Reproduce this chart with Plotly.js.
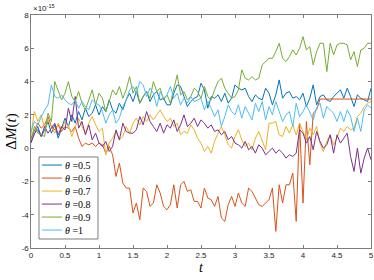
<!DOCTYPE html>
<html>
<head>
<meta charset="utf-8">
<script src="https://cdn.plot.ly/plotly-3.0.1.min.js"></script>
<style>html,body{margin:0;padding:0;background:#fff;}#chart{width:374px;height:280px;}</style>
</head>
<body>
<div id="chart"></div>
<script>
// time grid step 0.05 from 0 to 5
const tStep = 0.05;
const nPoints = 101;

// values in units of 1e-15
const theta05 = [0.4,0.9,1.3,0.7,1.1,1.6,0.9,1.4,0.6,1.2,1.8,
 1.3,2.0,1.5,2.2,1.7,2.4,1.9,2.1,2.6,2.0,
 2.5,2.2,2.9,2.3,2.1,2.7,2.3,2.9,3.3,2.8,
 3.4,2.7,3.1,3.4,2.8,3.2,3.4,2.9,3.0,2.6,
 2.6,3.3,3.8,3.7,3.1,2.5,2.8,3.0,3.1,3.9,
 3.5,2.4,3.1,3.0,3.2,2.8,3.3,2.7,3.0,3.8,
 3.6,3.5,3.6,3.1,2.8,3.2,3.0,2.9,3.6,3.3,
 2.6,3.2,4.1,3.0,3.3,3.4,3.0,3.1,2.9,3.3,
 2.5,3.0,3.8,2.6,3.1,3.2,2.9,2.8,3.1,3.3,
 3.5,3.0,3.6,3.1,2.5,3.2,3.0,2.9,2.8,3.6];
const theta06 = [0.6,1.1,1.5,1.2,1.4,1.9,1.3,1.1,1.4,1.0,1.3,
 1.2,1.0,1.3,0.6,0.1,0.3,0.2,0.3,0.1,0.3,
 0.2,-0.3,0.1,-0.4,-1.7,-0.9,-2.1,-2.4,-2.4,-3.9,
 -3.3,-4.3,-2.4,-2.6,-3.5,-3.3,-2.2,-2.7,-3.5,-3.7,
 -3.4,-2.2,-3.6,-2.2,-2.0,-2.6,-2.5,-3.2,-3.2,-3.6,
 -2.4,-3.0,-3.1,-3.5,-2.9,-4.2,-4.4,-3.4,-2.9,-3.5,
 -2.7,-3.3,-3.5,-2.4,-2.6,-3.0,-3.4,-3.5,-3.3,-3.1,
 -2.4,-5.0,-2.2,-3.3,-2.2,-2.2,-1.5,-4.4,1.5,-3.3,
 1.6,-1.0,2.1,2.3,2.95,2.95,2.95,2.95,2.95,2.95,
 2.95,2.95,2.95,2.95,2.95,2.95,2.95,2.95,2.95,2.95];
const theta07 = [0.8,2.2,1.6,2.0,1.2,1.7,1.3,0.9,1.5,1.1,1.6,
 1.4,0.7,1.2,1.8,1.3,0.9,1.5,1.9,1.4,1.0,
 1.2,-0.4,0.3,0.6,1.0,0.5,0.7,1.3,0.9,1.5,
 1.8,1.4,1.9,1.6,2.0,1.7,2.0,2.3,1.9,1.6,
 1.8,1.3,1.5,0.8,1.0,0.9,1.4,1.1,0.6,0.3,
 -0.2,0.1,-0.3,0.4,0.9,1.3,0.8,0.2,0.0,0.7,
 1.1,0.5,0.1,0.3,-0.1,0.6,1.0,0.4,-0.1,1.5,
 1.5,1.6,0.8,0.7,1.3,0.9,1.4,0.8,1.5,1.0,
 0.5,1.2,0.8,1.3,0.3,-0.2,0.4,0.8,0.2,0.6,
 1.2,1.0,1.3,1.1,1.2,1.9,2.1,2.5,2.7,2.8];
const theta08 = [0.3,0.9,1.1,0.7,1.3,0.9,1.2,1.5,0.8,1.3,1.1,
 2.4,1.6,3.1,1.2,1.6,0.8,1.4,0.5,0.9,0.3,
 0.1,0.4,-0.2,0.1,1.1,0.5,1.5,1.0,0.9,0.9,
 1.1,1.9,1.4,2.2,1.6,1.3,1.0,1.5,0.9,1.4,
 1.2,1.7,1.0,1.4,2.0,1.3,1.5,1.8,1.3,1.7,
 1.5,1.2,1.4,1.0,1.1,0.8,1.0,0.5,0.7,0.3,
 0.2,0.0,0.4,-0.1,0.1,-0.3,0.2,0.0,-0.4,-0.2,
 0.0,-0.3,-0.1,-0.3,-0.6,-0.4,-0.5,-0.3,1.1,0.9,
 0.3,0.7,-0.1,1.0,0.4,0.0,0.2,0.8,-0.3,0.8,
 0.3,0.6,0.9,-0.5,-1.4,0.0,-1.5,-0.6,0.0,-0.7];
const theta09 = [0.5,1.3,0.9,0.8,0.7,2.1,1.6,4.0,3.4,2.9,3.3,
 4.0,3.1,2.8,3.4,2.7,2.3,2.9,3.5,2.6,3.3,
 3.0,2.2,2.8,3.5,3.2,3.7,3.0,3.5,4.3,3.3,
 3.7,2.7,3.1,3.4,3.0,4.0,3.4,3.6,2.9,3.2,
 2.7,3.6,4.4,3.2,3.4,2.9,3.1,3.6,3.4,3.0,
 3.7,3.1,2.9,3.5,4.0,4.2,3.6,3.3,3.0,3.1,
 3.5,4.7,4.2,4.1,4.3,4.1,4.2,5.0,5.2,5.4,
 5.4,5.8,6.3,5.4,5.2,5.5,5.9,5.6,6.0,6.7,
 5.9,6.1,5.0,5.8,6.3,6.3,4.6,6.3,5.6,6.2,
 6.3,6.3,6.2,5.3,5.8,4.9,5.9,6.0,6.3,6.3];
const theta10 = [1.0,1.6,1.4,1.9,2.3,2.6,3.8,3.1,3.0,3.2,2.9,
 2.7,2.6,2.9,2.4,2.8,2.5,2.3,2.9,2.7,2.6,
 2.2,1.5,2.0,2.3,1.5,1.8,2.5,2.9,3.5,3.7,
 3.3,4.0,3.8,3.1,3.6,3.3,2.5,3.4,3.0,3.2,
 3.7,3.0,3.3,2.6,3.0,2.7,3.1,2.8,2.9,3.0,
 2.3,2.8,2.4,1.9,2.3,1.3,1.9,2.6,2.2,2.0,
 2.6,1.8,2.5,2.1,1.7,2.7,2.2,2.8,1.7,2.5,
 2.0,2.8,2.2,1.6,2.0,2.2,1.3,2.7,1.9,2.2,
 2.6,2.1,1.7,2.4,2.7,1.8,2.5,2.3,2.1,1.6,
 2.2,1.6,2.3,1.9,1.0,1.8,1.0,2.3,2.6,2.4];

const seriesNames = ['<i>θ</i> =0.5','<i>θ</i> =0.6','<i>θ</i> =0.7','<i>θ</i> =0.8','<i>θ</i> =0.9','<i>θ</i> =1'];
const seriesColors = ['#0072BD','#D95319','#EDB120','#7E2F8E','#77AC30','#4DBEEE'];
const xTicks = [0,0.5,1,1.5,2,2.5,3,3.5,4,4.5,5];
const xTickText = ['0','0.5','1','1.5','2','2.5','3','3.5','4','4.5','5'];
const yTicks = [-6,-4,-2,0,2,4,6,8];
const yTickText = ['-6','-4','-2','0','2','4','6','8'];

const t = [];
for (let i = 0; i < nPoints; i++) t.push(+(i * tStep).toFixed(2));

const allSeries = [theta05, theta06, theta07, theta08, theta09, theta10];
const traces = allSeries.map((ys, k) => ({
  x: t, y: ys, type: 'scatter', mode: 'lines', name: seriesNames[k],
  line: {color: seriesColors[k], width: 1}
}));

const axisCommon = {
  showgrid: false, zeroline: false, showline: true, linecolor: '#262626', linewidth: 0.6,
  mirror: 'ticks', ticks: 'inside', ticklen: 3, tickwidth: 0.6, tickcolor: '#262626',
  tickfont: {family: 'Liberation Sans, Arial, sans-serif', size: 8, color: '#262626'}
};

// compact MATLAB-style legend (box, line samples, labels) in paper coordinates
const legBox = {x0: 0.0235, x1: 0.197, y0: 0.0386, y1: 0.3906};
const legTop = 0.356, legStep = 0.0558;
const shapes = [{
  type: 'rect', xref: 'paper', yref: 'paper', layer: 'above',
  x0: legBox.x0, x1: legBox.x1, y0: legBox.y0, y1: legBox.y1,
  fillcolor: '#fff', line: {color: '#262626', width: 0.6}
}];
const annotations = [{
  xref: 'paper', yref: 'paper', x: 0, y: 1, xanchor: 'left', yanchor: 'bottom',
  text: '×10<sup>-15</sup>', showarrow: false,
  font: {family: 'Liberation Sans, Arial, sans-serif', size: 8, color: '#262626'}
}];
seriesNames.forEach((nm, k) => {
  const yy = legTop - legStep * k;
  shapes.push({type: 'line', xref: 'paper', yref: 'paper', layer: 'above',
    x0: 0.032, x1: 0.091, y0: yy, y1: yy, line: {color: seriesColors[k], width: 1}});
  annotations.push({xref: 'paper', yref: 'paper', x: 0.094, y: yy, xanchor: 'left', yanchor: 'middle',
    text: nm, showarrow: false, font: {family: 'Liberation Serif, serif', size: 10, color: '#000'}});
});

const layout = {
  width: 374, height: 280,
  margin: {l: 31, r: 3, t: 15, b: 32},
  paper_bgcolor: '#fff', plot_bgcolor: '#fff',
  showlegend: false,
  xaxis: Object.assign({}, axisCommon, {
    range: [0, 5], tickvals: xTicks, ticktext: xTickText,
    title: {text: '<i>t</i>', font: {family: 'Liberation Serif, serif', size: 14, color: '#000'}, standoff: 1}
  }),
  yaxis: Object.assign({}, axisCommon, {
    range: [-6, 8], tickvals: yTicks, ticktext: yTickText,
    title: {text: 'Δ<i>M</i>(<i>t</i>)', font: {family: 'Liberation Serif, serif', size: 15, color: '#000'}, standoff: 1}
  }),
  shapes: shapes,
  annotations: annotations
};

Plotly.newPlot('chart', traces, layout, {displayModeBar: false, staticPlot: true});
</script>
</body>
</html>
